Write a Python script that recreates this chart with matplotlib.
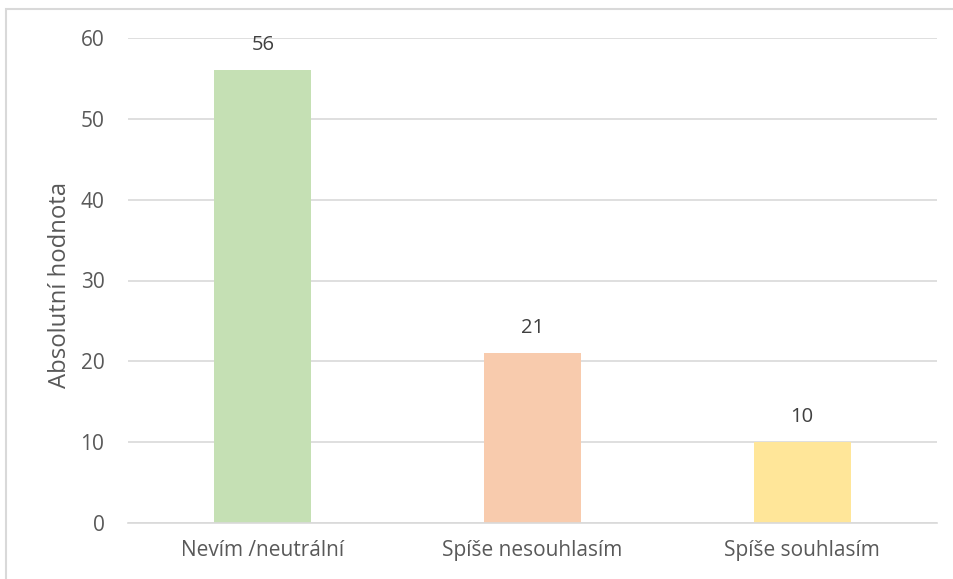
import matplotlib
matplotlib.use("Agg")
import matplotlib.pyplot as plt
from matplotlib.patches import Rectangle

categories = ["Nevím /neutrální", "Spíše nesouhlasím", "Spíše souhlasím"]
values = [56, 21, 10]
colors = ["#C5E0B4", "#F8CBAD", "#FFE699"]
yticks = [0, 10, 20, 30, 40, 50, 60]

plt.rcParams["font.family"] = ["Open Sans", "DejaVu Sans"]
text_color = "#595959"
grid_color = "#D9D9D9"

fig = plt.figure(figsize=(9.54, 5.79), dpi=100)
ax = fig.add_axes([128 / 954, 1 - 523 / 579, (937 - 128) / 954, (523 - 38) / 579])

x = list(range(len(categories)))
bars = ax.bar(x, values, width=0.36, color=colors, zorder=2)
for b, v in zip(bars, values):
    ax.annotate(str(v), (b.get_x() + b.get_width() / 2, v), xytext=(0, 11),
                textcoords="offset points", ha="center", va="bottom",
                fontsize=14.5, color="#404040")

ax.set_xlim(-0.5, len(categories) - 0.5)
ax.set_ylim(0, 60)
ax.set_yticks(yticks)
ax.set_xticks(x)
ax.set_xticklabels(categories)
ax.yaxis.grid(True, color=grid_color, linewidth=1.2, zorder=0)
ax.tick_params(axis="both", length=0, labelsize=15, colors=text_color)
ax.tick_params(axis="y", pad=17)
ax.tick_params(axis="x", pad=12)
for side in ["left", "right", "top"]:
    ax.spines[side].set_visible(False)
ax.spines["bottom"].set_color(grid_color)
ax.spines["bottom"].set_linewidth(1.2)
ax.set_ylabel("Absolutní hodnota", fontsize=17.2, color=text_color)
ax.yaxis.set_label_coords(-0.069, 0.49)

# chart area border
fig.patches.append(Rectangle((6 / 954, -0.1), 1.2, 1 - 9 / 579 + 0.1,
                             transform=fig.transFigure, fill=False,
                             edgecolor=grid_color, linewidth=1.5))

fig.savefig("out.png", dpi=100)
